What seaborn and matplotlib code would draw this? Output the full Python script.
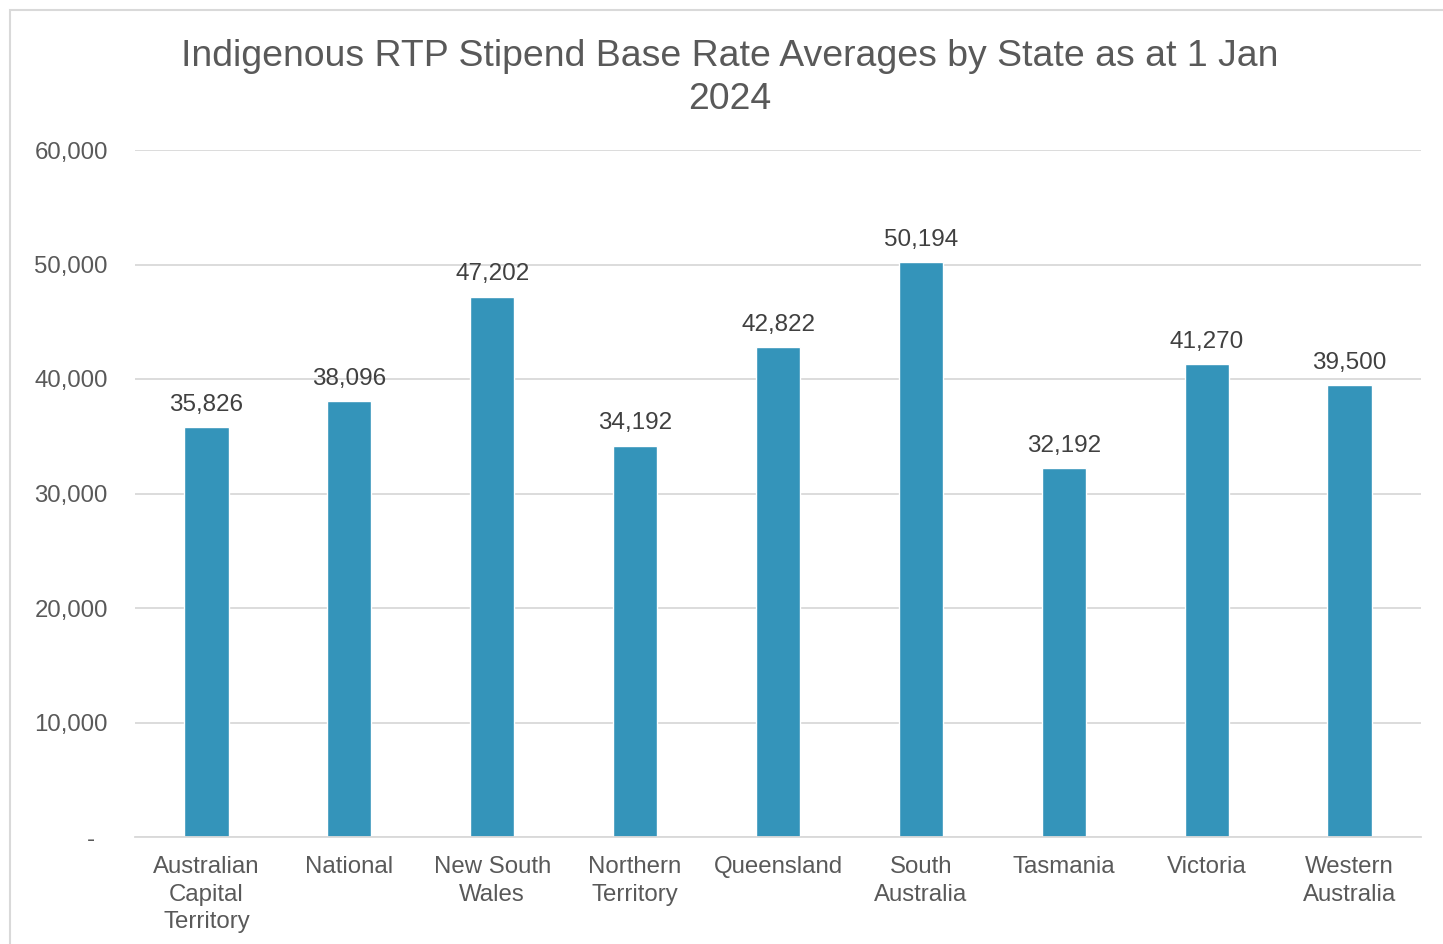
import matplotlib
matplotlib.use('Agg')
import pandas as pd
import seaborn as sns
import matplotlib.pyplot as plt
from matplotlib.patches import Rectangle
from matplotlib.ticker import FuncFormatter

# datos
estados = ['Australian\nCapital\nTerritory', 'National', 'New South\nWales', 'Northern\nTerritory',
           'Queensland', 'South\nAustralia', 'Tasmania', 'Victoria', 'Western\nAustralia']
valores = [35826, 38096, 47202, 34192, 42822, 50194, 32192, 41270, 39500]
y_ticks = [0, 10000, 20000, 30000, 40000, 50000, 60000]

df = pd.DataFrame({'estado': estados, 'valor': valores})

sns.set_style('white')
plt.rcParams['font.family'] = ['Liberation Sans', 'DejaVu Sans']

fig = plt.figure(figsize=(14.43, 9.44), dpi=100)
ax = fig.add_axes([135 / 1443, 1 - 837 / 944, (1421 - 135) / 1443, (837 - 150) / 944])

graf = sns.barplot(data=df, x='estado', y='valor', color='#3494BA', saturation=1, width=0.31, ax=ax)

ax.set_ylim(0, 60000)
ax.set_xlim(-0.5, 8.5)
ax.set_yticks(y_ticks)
ax.yaxis.set_major_formatter(FuncFormatter(lambda v, p: '-  ' if v == 0 else f'{int(v):,}'))
ax.grid(axis='y', color='#D9D9D9', linewidth=1.3)
ax.set_axisbelow(True)
for s in ['top', 'right', 'left']:
    ax.spines[s].set_visible(False)
ax.spines['bottom'].set_color('#D9D9D9')
ax.spines['bottom'].set_linewidth(1.3)
ax.tick_params(axis='both', length=0, labelsize=17.3, labelcolor='#595959')
ax.tick_params(axis='y', pad=19.5)
ax.tick_params(axis='x', pad=14)
for t in ax.get_xticklabels():
    t.set_linespacing(1.32)
ax.set_xlabel('')
ax.set_ylabel('')

# valores em cima das barras
for p, v in zip(graf.patches, valores):
    ax.annotate(f'{v:,}', (p.get_x() + p.get_width() / 2, p.get_height()),
                ha='center', va='bottom', fontsize=17.5, color='#404040',
                xytext=(0, 8), textcoords='offset points')

fig.text(0.5055, 1 - 78 / 944, 'Indigenous RTP Stipend Base Rate Averages by State as at 1 Jan\n2024',
         ha='center', va='center', fontsize=26.9, color='#595959', linespacing=1.3)

# borda
fig.patches.append(Rectangle((10 / 1443, -0.1), 1.2, 1 - 10 / 944 + 0.1, transform=fig.transFigure,
                             fill=False, edgecolor='#D9D9D9', linewidth=1.5))

fig.savefig('out.png', dpi=100)
